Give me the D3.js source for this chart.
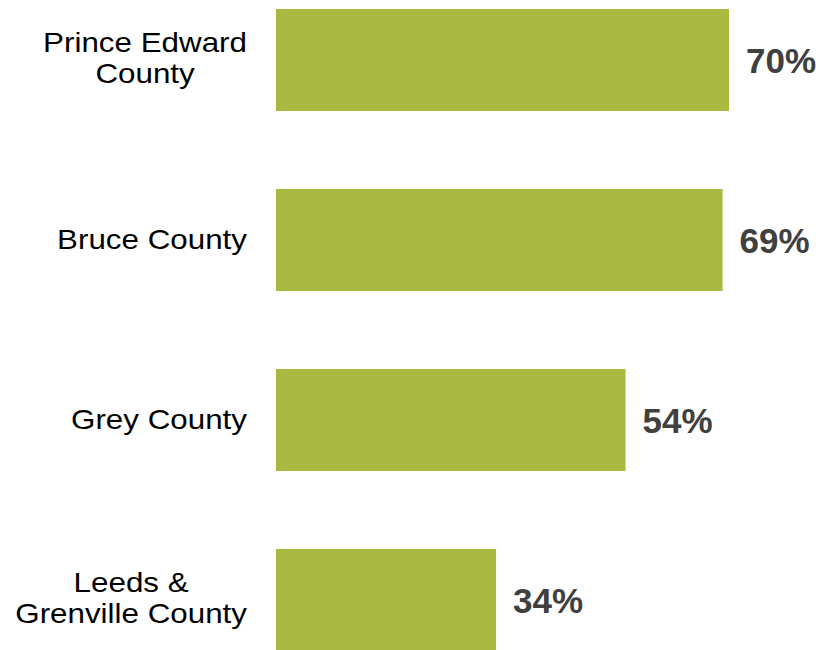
<!DOCTYPE html>
<html>
<head>
<meta charset="utf-8">
<script src="https://cdn.jsdelivr.net/npm/d3@7"></script>
<style>
  html, body { margin: 0; padding: 0; background: #ffffff; }
  svg { display: block; }
</style>
</head>
<body>
<svg id="chart" width="823" height="650"></svg>
<script>
// Share of respondents by county
const categories = [
  ["Prince Edward", "County"],
  ["Bruce County"],
  ["Grey County"],
  ["Leeds &", "Grenville County"]
];
const values = [70, 69, 54, 34];
const valueLabels = ["70%", "69%", "54%", "34%"];

const svg = d3.select("#chart");
const barColor = "#a9b93f";
const fontFamily = "'Liberation Sans', Arial, sans-serif";

const x = d3.scaleLinear().domain([0, 70]).range([276, 729]);
const y = d3.scaleBand()
  .domain(d3.range(categories.length))
  .range([9, 651])
  .paddingInner(0.4333)
  .paddingOuter(0);

// Bars
svg.selectAll("rect.bar")
  .data(values)
  .join("rect")
  .attr("class", "bar")
  .attr("x", x(0))
  .attr("y", (d, i) => y(i))
  .attr("width", d => x(d) - x(0))
  .attr("height", y.bandwidth())
  .attr("fill", barColor);

// Value labels
svg.selectAll("text.value")
  .data(values)
  .join("text")
  .attr("class", "value")
  .attr("x", d => x(d) + 17)
  .attr("y", (d, i) => y(i) + y.bandwidth() / 2 + 13)
  .attr("font-family", fontFamily)
  .attr("font-weight", "bold")
  .attr("font-size", 35)
  .attr("fill", "#404040")
  .text((d, i) => valueLabels[i]);

// Category labels: block right-aligned to the axis, lines centred within the block
const catText = svg.selectAll("text.cat")
  .data(categories)
  .join("text")
  .attr("class", "cat")
  .attr("text-anchor", "middle")
  .attr("font-family", fontFamily)
  .attr("font-size", 28)
  .attr("fill", "#000000")
  .attr("transform", (d, i) => `translate(247,${y(i) + y.bandwidth() / 2}) scale(1.12,1)`);

catText.each(function(lines) {
  const offsets = lines.length === 1 ? [9] : [-8, 23];
  const spans = d3.select(this).selectAll("tspan")
    .data(lines)
    .join("tspan")
    .attr("y", (d, j) => offsets[j])
    .text(d => d);
  let maxW = 0;
  spans.each(function() { maxW = Math.max(maxW, this.getComputedTextLength()); });
  spans.attr("x", -maxW / 2);
});
</script>
</body>
</html>
